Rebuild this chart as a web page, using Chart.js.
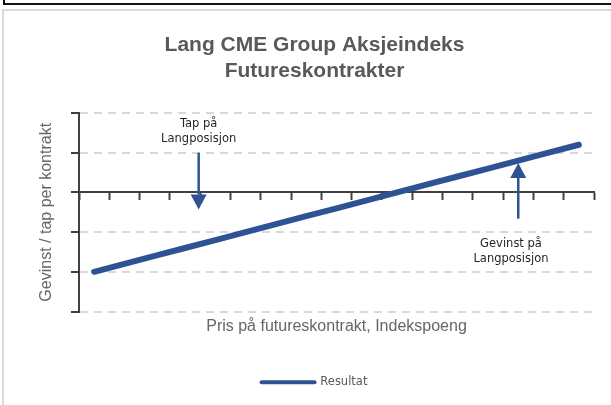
<!DOCTYPE html>
<html>
<head>
<meta charset="utf-8">
<script src="https://cdn.jsdelivr.net/npm/chart.js@4"></script>
<style>
  html, body { margin: 0; padding: 0; background: #fff; }
  #wrap { position: relative; width: 611px; height: 405px; overflow: hidden; }
  #topBox { position: absolute; left: 3px; top: -10px; width: 620px; height: 13px;
    border-left: 2px solid #111; border-bottom: 2px solid #111; }
  #frame { position: absolute; left: 2px; top: 9px; width: 620px; height: 420px;
    border-left: 2px solid #dadada; border-top: 2px solid #dadada; }
  #chartBox { position: absolute; left: 0; top: 0; width: 611px; height: 405px; }
</style>
</head>
<body>
<div id="wrap">
  <div id="topBox"></div>
  <div id="frame"></div>
  <div id="chartBox"><canvas id="myChart"></canvas></div>
</div>
<script>
// Data
const categories = ['1', '2', '3', '4', '5', '6', '7', '8', '9', '10', '11', '12', '13', '14', '15', '16', '17'];
const resultValues = [-2.0, -1.8, -1.6, -1.4, -1.2, -1.0, -0.8, -0.6, -0.4, -0.2, 0.0, 0.2, 0.4, 0.6, 0.8, 1.0, 1.2];
const yTicks = [-3, -2, -1, 0, 1, 2];

// Annotations (positions in data units: category index, value)
const arrows = [
  { x: 3.45, from: 1.0, to: -0.43 },
  { x: 14.0, from: -0.66, to: 0.74 }
];
const notes = [
  { x: 3.45, y: 1.73, text: 'Tap på' },
  { x: 3.45, y: 1.35, text: 'Langposisjon' },
  { x: 13.76, y: -1.29, text: 'Gevinst på' },
  { x: 13.76, y: -1.68, text: 'Langposisjon' }
];

const blue = '#2e5395';
const dark = '#404040';

const annotationPlugin = {
  id: 'annotations',
  afterDatasetsDraw(chart) {
    const ctx = chart.ctx;
    const xs = chart.scales.x;
    const ys = chart.scales.y;
    ctx.save();
    arrows.forEach(a => {
      const px = xs.getPixelForValue(a.x);
      const y1 = ys.getPixelForValue(a.from);
      const y2 = ys.getPixelForValue(a.to);
      const dir = y2 > y1 ? 1 : -1;
      const head = 15;
      ctx.strokeStyle = blue;
      ctx.fillStyle = blue;
      ctx.lineWidth = 2.5;
      ctx.beginPath();
      ctx.moveTo(px, y1);
      ctx.lineTo(px, y2 - dir * head);
      ctx.stroke();
      ctx.beginPath();
      ctx.moveTo(px - 8, y2 - dir * head);
      ctx.lineTo(px + 8, y2 - dir * head);
      ctx.lineTo(px, y2);
      ctx.closePath();
      ctx.fill();
    });
    ctx.fillStyle = '#262626';
    ctx.font = '11.5px "DejaVu Sans", sans-serif';
    ctx.textAlign = 'center';
    ctx.textBaseline = 'middle';
    notes.forEach(n => {
      ctx.fillText(n.text, xs.getPixelForValue(n.x), ys.getPixelForValue(n.y));
    });
    ctx.restore();
  }
};

Chart.defaults.font.family = '"Liberation Sans", Arial, sans-serif';

const chart = new Chart(document.getElementById('myChart'), {
  type: 'line',
  data: {
    labels: categories,
    datasets: [
      {
        label: 'Resultat',
        data: resultValues,
        borderColor: blue,
        backgroundColor: blue,
        borderWidth: 6,
        borderCapStyle: 'round',
        pointRadius: 0,
        pointStyle: 'line',
        tension: 0
      }
    ]
  },
  options: {
    responsive: true,
    maintainAspectRatio: false,
    animation: false,
    layout: { padding: { left: 35, right: 17, top: 12, bottom: 7 } },
    plugins: {
      title: {
        display: true,
        text: ['Lang CME Group Aksjeindeks', 'Futureskontrakter'],
        color: '#595959',
        font: { size: 21, weight: 'bold', lineHeight: 1.2 },
        padding: { top: 21, bottom: 29.6 }
      },
      legend: {
        position: 'bottom',
        labels: {
          color: '#595959',
          font: { size: 11.5, family: '"DejaVu Sans", sans-serif' },
          usePointStyle: true,
          pointStyleWidth: 53,
          boxHeight: 10,
          generateLabels(chart) {
            const items = Chart.defaults.plugins.legend.labels.generateLabels(chart);
            items.forEach(item => {
              item.lineWidth = 4;
              item.lineCap = 'round';
            });
            return items;
          }
        }
      },
      tooltip: { enabled: false }
    },
    scales: {
      x: {
        type: 'category',
        position: 'bottom',
        offset: true,
        grid: { display: false, drawTicks: false },
        border: { display: false },
        ticks: { display: false },
        title: {
          display: true,
          text: 'Pris på futureskontrakt, Indekspoeng',
          color: '#666666',
          font: { size: 16 },
          padding: { top: 5.4, bottom: 30.4 }
        }
      },
      x2: {
        type: 'category',
        labels: categories,
        position: { y: 0 },
        offset: true,
        grid: {
          offset: true,
          drawOnChartArea: false,
          tickLength: 7,
          tickWidth: 2,
          tickColor: dark
        },
        border: { color: dark, width: 2 },
        ticks: { display: false }
      },
      y: {
        min: yTicks[0],
        max: yTicks[yTicks.length - 1],
        afterBuildTicks(axis) {
          axis.ticks = yTicks.map(v => ({ value: v }));
        },
        grid: {
          color: ctx => (ctx.tick && ctx.tick.value === 0 ? 'rgba(0,0,0,0)' : '#d9d9d9'),
          lineWidth: 2,
          tickLength: 8,
          tickWidth: 2,
          tickColor: dark
        },
        border: { color: dark, width: 2, dash: [8, 6] },
        ticks: { display: false },
        title: {
          display: true,
          text: 'Gevinst / tap per kontrakt',
          color: '#666666',
          font: { size: 16 },
          padding: { top: 2, bottom: 14.8 }
        }
      }
    }
  },
  plugins: [annotationPlugin]
});
</script>
</body>
</html>
